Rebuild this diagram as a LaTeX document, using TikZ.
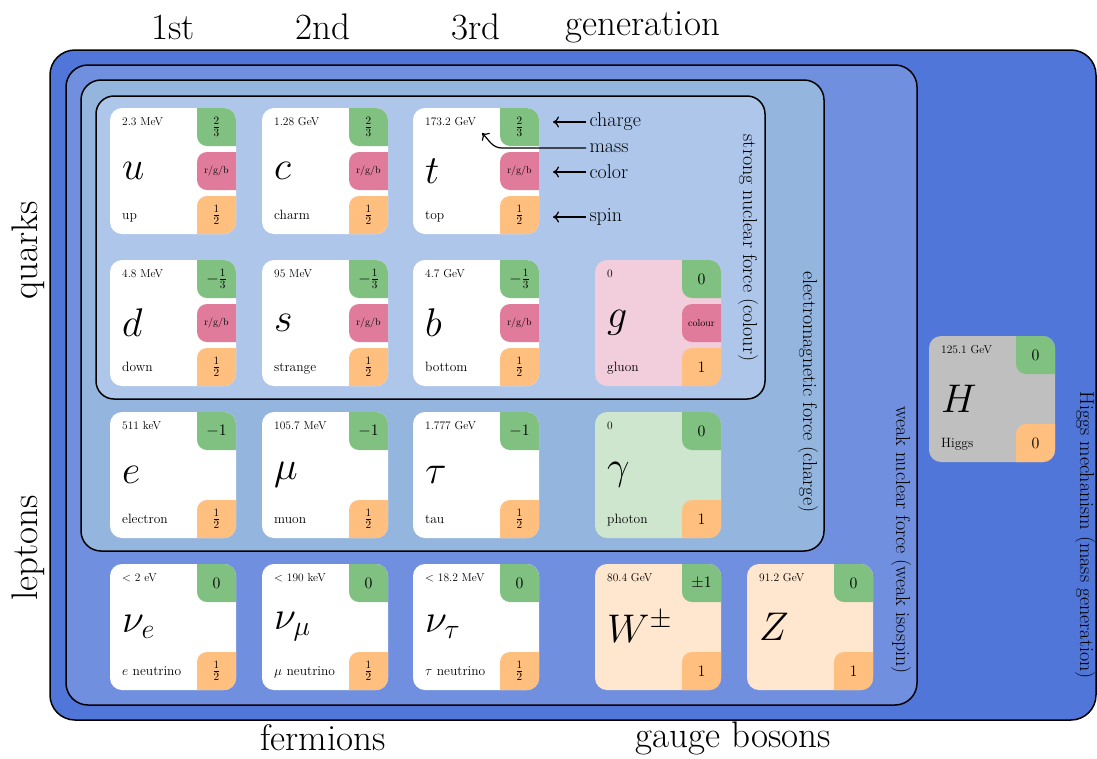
\RequirePackage{fix-cm}
\documentclass[tikz,border=0pt]{standalone}
\usepackage{amsmath,amssymb}
\usepackage{tikz}
\usetikzlibrary{arrows.meta}

\definecolor{higgsblue}{RGB}{79,118,216}
\definecolor{weakblue}{RGB}{112,143,222}
\definecolor{emblue}{RGB}{148,181,221}
\definecolor{strongblue}{RGB}{173,198,233}
\definecolor{chargegreen}{RGB}{128,192,128}
\definecolor{colourpink}{RGB}{224,123,155}
\definecolor{spinorange}{RGB}{255,191,127}
\definecolor{gluonpink}{RGB}{242,205,220}
\definecolor{photongreen}{RGB}{205,230,205}
\definecolor{wzpeach}{RGB}{255,230,206}
\definecolor{higgsgrey}{RGB}{191,191,191}

% one particle card: id, x, y, fill, mass, symbol, name, charge, spin
\newcommand{\particle}[9]{%
  \begin{scope}[shift={(#2,#3)}]
    \fill[#4, rounded corners=12pt] (0,0) rectangle (126,126);
    \begin{scope}
      \clip[rounded corners=12pt] (0,0) rectangle (126,126);
      \fill[chargegreen, rounded corners=10pt] (87,-20) rectangle (146,38);
      \fill[spinorange, rounded corners=10pt] (87,88) rectangle (146,146);
    \end{scope}
    \node[masstext] (#1-mass) at (12,17) {#5};
    \node[symtext] (#1-sym) at (12,63) {$#6$};
    \node[nametext] (#1-name) at (12,111) {#7};
    \node[badgetext] (#1-charge) at (106.5,19) {$#8$};
    \node[badgetext] (#1-spin) at (106.5,107) {$#9$};
  \end{scope}}

% colour tag in the middle of a card: id, x, y, text
\newcommand{\colourtag}[4]{%
  \begin{scope}[shift={(#2,#3)}]
    \begin{scope}
      \clip[rounded corners=12pt] (0,0) rectangle (126,126);
      \fill[colourpink, rounded corners=10pt] (87,44) rectangle (146,82);
    \end{scope}
    \node[coltext] (#1-col) at (106.5,63) {#4};
  \end{scope}}

\begin{document}
\begin{tikzpicture}[x=1pt, y=-1pt,
    masstext/.style={anchor=base west, inner sep=0pt, font=\fontsize{11.5}{13}\selectfont},
    symtext/.style={anchor=west, inner sep=0pt, font=\fontsize{40}{48}\selectfont},
    nametext/.style={anchor=base west, inner sep=0pt, font=\fontsize{13.5}{16}\selectfont},
    badgetext/.style={inner sep=0pt, font=\fontsize{16}{18}\selectfont},
    coltext/.style={inner sep=0pt, font=\fontsize{10}{12}\selectfont},
    biglabel/.style={font=\fontsize{37}{44}\selectfont},
    forcelabel/.style={font=\fontsize{20}{24}\selectfont},
    box/.style={draw=black, line width=1.5pt},
    pointer/.style={-{To[length=6pt,width=11pt]}, line width=1.2pt}]
		\useasboundingbox (0,0) rectangle (1097,758);

		% interaction boxes
		\filldraw[box, fill=higgsblue, rounded corners=25pt] (50,50) rectangle (1096,720);
		\filldraw[box, fill=weakblue, rounded corners=22pt] (66,65) rectangle (917,705);
		\filldraw[box, fill=emblue, rounded corners=20pt] (81,80) rectangle (824,551);
		\filldraw[box, fill=strongblue, rounded corners=18pt] (96,96) rectangle (765,399);

		\node[forcelabel, rotate=-90] (strong) at (748,248) {strong nuclear force (colour)};
		\node[forcelabel, rotate=-90] (em) at (808,392) {electromagnetic force (charge)};
		\node[forcelabel, rotate=-90] (weak) at (901,540) {weak nuclear force (weak isospin)};
		\node[forcelabel, rotate=-90] (higgs) at (1085,535) {Higgs mechanism (mass generation)};

		% outer labels
		\node[biglabel] (gen1) at (173,27) {1st};
		\node[biglabel] (gen2) at (323,27) {2nd};
		\node[biglabel] (gen3) at (476,27) {3rd};
		\node[biglabel] (gen) at (643,27) {generation};
		\node[biglabel, rotate=90] (quarks) at (28,250) {quarks};
		\node[biglabel, rotate=90] (leptons) at (28,548) {leptons};
		\node[biglabel] (fermions) at (323,738) {fermions};
		\node[biglabel] (bosons) at (733,738) {gauge bosons};

		% quarks
		\particle{u}{110}{108}{white}{2.3 MeV}{u}{up}{\frac{2}{3}}{\frac{1}{2}}
		\colourtag{u}{110}{108}{r/g/b}
		\particle{c}{262}{108}{white}{1.28 GeV}{c}{charm}{\frac{2}{3}}{\frac{1}{2}}
		\colourtag{c}{262}{108}{r/g/b}
		\particle{t}{413}{108}{white}{173.2 GeV}{t}{top}{\frac{2}{3}}{\frac{1}{2}}
		\colourtag{t}{413}{108}{r/g/b}
		\particle{d}{110}{260}{white}{4.8 MeV}{d}{down}{-\frac{1}{3}}{\frac{1}{2}}
		\colourtag{d}{110}{260}{r/g/b}
		\particle{s}{262}{260}{white}{95 MeV}{s}{strange}{-\frac{1}{3}}{\frac{1}{2}}
		\colourtag{s}{262}{260}{r/g/b}
		\particle{b}{413}{260}{white}{4.7 GeV}{b}{bottom}{-\frac{1}{3}}{\frac{1}{2}}
		\colourtag{b}{413}{260}{r/g/b}

		% leptons
		\particle{e}{110}{412}{white}{511 keV}{e}{electron}{-1}{\frac{1}{2}}
		\particle{mu}{262}{412}{white}{105.7 MeV}{\mu}{muon}{-1}{\frac{1}{2}}
		\particle{tau}{413}{412}{white}{1.777 GeV}{\tau}{tau}{-1}{\frac{1}{2}}
		\particle{nue}{110}{564}{white}{$<$ 2 eV}{\nu_e}{$e$ neutrino}{0}{\frac{1}{2}}
		\particle{numu}{262}{564}{white}{$<$ 190 keV}{\nu_\mu}{$\mu$ neutrino}{0}{\frac{1}{2}}
		\particle{nutau}{413}{564}{white}{$<$ 18.2 MeV}{\nu_\tau}{$\tau$ neutrino}{0}{\frac{1}{2}}

		% bosons
		\particle{g}{595}{260}{gluonpink}{0}{g}{gluon}{0}{1}
		\colourtag{g}{595}{260}{colour}
		\particle{gamma}{595}{412}{photongreen}{0}{\gamma}{photon}{0}{1}
		\particle{W}{595}{564}{wzpeach}{80.4 GeV}{W^{\pm}}{}{\pm1}{1}
		\particle{Z}{747}{564}{wzpeach}{91.2 GeV}{Z}{}{0}{1}
		\particle{H}{929}{336}{higgsgrey}{125.1 GeV}{H}{Higgs}{0}{0}

		% legend
		\node[forcelabel, anchor=west] (lcharge) at (586,122) {charge};
		\node[forcelabel, anchor=west] (lmass) at (586,148) {mass};
		\node[forcelabel, anchor=west] (lcolour) at (586,172) {color};
		\node[forcelabel, anchor=west] (lspin) at (586,217) {spin};
		\coordinate (chargetip) at (553,122);
		\coordinate (masstip) at (482,133);
		\coordinate (colourtip) at (553,172);
		\coordinate (spintip) at (553,217);
		\draw[pointer] (lcharge) -- (chargetip);
		\draw[pointer] (lmass) -- (502,148) to[out=180, in=-45] (masstip);
		\draw[pointer] (lcolour) -- (colourtip);
		\draw[pointer] (lspin) -- (spintip);
	\end{tikzpicture}
\end{document}
